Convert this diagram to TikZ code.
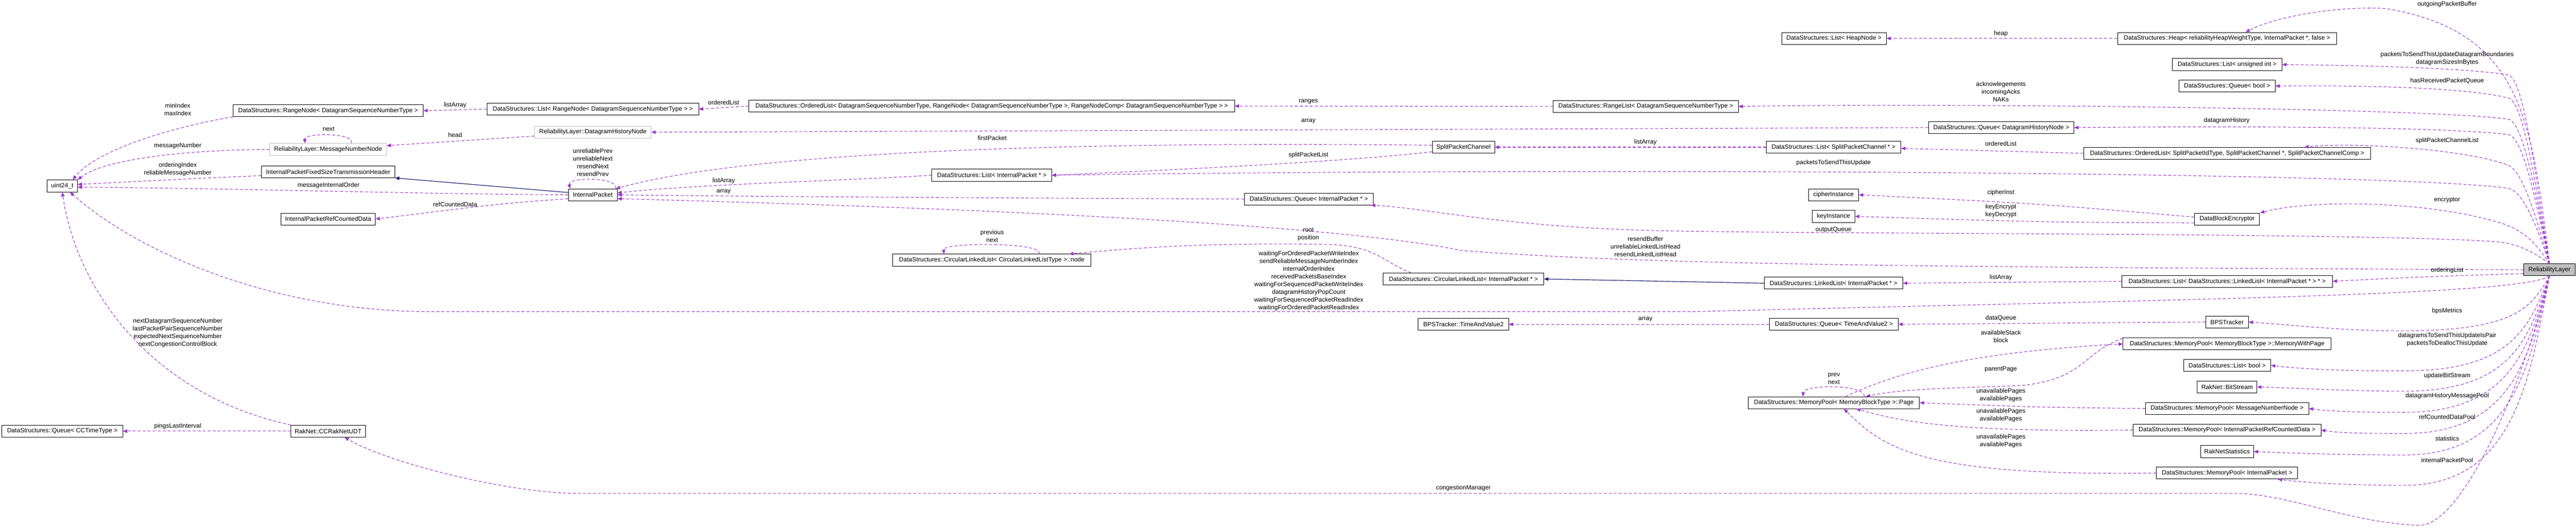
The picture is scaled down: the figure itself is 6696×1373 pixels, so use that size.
\documentclass[tikz,border=0pt]{standalone}
\usepackage{fontspec}
\setmainfont{Liberation Sans}
\usetikzlibrary{arrows.meta}
\newcommand\dfont{\fontsize{4.6pt}{5.7pt}\selectfont}
\definecolor{dep}{HTML}{9A32CD}
\definecolor{inh}{HTML}{191970}
\tikzset{
  box/.style={draw=black,line width=0.35pt,inner sep=0pt,minimum height=0.31cm,font=\dfont,fill=white},
  gbox/.style={box,draw=gray!50},
  rbox/.style={box,fill=gray!50},
  lbl/.style={font=\dfont,align=center,inner sep=0pt},
  dep/.style={draw=dep,line width=0.4pt,dash pattern=on 0.08cm off 0.05cm,-{Triangle[length=0.11cm,width=0.09cm]}},
  inhe/.style={draw=inh,line width=0.45pt,-{Triangle[length=0.11cm,width=0.09cm]}}
}
\newcommand\bx[6][box]{\node[#1,minimum width=#5*0.01cm] (#2) at (#3,#4) {#6};}
\begin{document}
\begin{tikzpicture}[x=0.01cm,y=-0.01cm]
\useasboundingbox (0,0) rectangle (6696,1373);
% nodes
\bx{uint}{162}{484}{79}{uint24\_t}
\bx{ccq}{162}{1122}{314}{DataStructures::Queue< CCTimeType >}
\bx{ccr}{853}{1122}{193}{RakNet::CCRakNetUDT}
\bx{rn}{853}{288}{494}{DataStructures::RangeNode< DatagramSequenceNumberType >}
\bx[gbox]{mnn}{853}{389}{303}{ReliabilityLayer::MessageNumberNode}
\bx{hdr}{853}{447}{347}{InternalPacketFixedSizeTransmissionHeader}
\bx{rcd}{853}{570}{246}{InternalPacketRefCountedData}
\bx{lrn}{1541}{284}{550}{DataStructures::List< RangeNode< DatagramSequenceNumberType > >}
\bx[gbox]{dhn}{1541}{344}{303}{ReliabilityLayer::DatagramHistoryNode}
\bx{ip}{1541}{507}{127}{InternalPacket}
\bx{ol}{2578}{276}{1262}{DataStructures::OrderedList< DatagramSequenceNumberType, RangeNode< DatagramSequenceNumberType >, RangeNodeComp< DatagramSequenceNumberType > >}
\bx{lip}{2578}{456}{311}{DataStructures::List< InternalPacket * >}
\bx{cln}{2578}{677}{515}{DataStructures::CircularLinkedList< CircularLinkedListType >::node}
\bx{qip}{3402}{518}{335}{DataStructures::Queue< InternalPacket * >}
\bx{rl}{4278}{277}{481}{DataStructures::RangeList< DatagramSequenceNumberType >}
\bx{spc}{3804}{383}{162}{SplitPacketChannel}
\bx{cll}{3804}{726}{418}{DataStructures::CircularLinkedList< InternalPacket * >}
\bx{tav}{3804}{844}{235}{BPSTracker::TimeAndValue2}
\bx{lhn}{4767}{100}{272}{DataStructures::List< HeapNode >}
\bx{qdh}{5202}{332}{378}{DataStructures::Queue< DatagramHistoryNode >}
\bx{lsp}{4766}{383}{350}{DataStructures::List< SplitPacketChannel * >}
\bx{osp}{5789}{399}{746}{DataStructures::OrderedList< SplitPacketIdType, SplitPacketChannel *, SplitPacketChannelComp >}
\bx{ci}{4766}{507}{131}{cipherInstance}
\bx{ki}{4766}{563}{111}{keyInstance}
\bx{ll}{4766}{737}{360}{DataStructures::LinkedList< InternalPacket * >}
\bx{qtv}{4767}{844}{334}{DataStructures::Queue< TimeAndValue2 >}
\bx{pg}{4767}{1048}{445}{DataStructures::MemoryPool< MemoryBlockType >::Page}
\bx{hp}{5789}{100}{570}{DataStructures::Heap< reliabilityHeapWeightType, InternalPacket *, false >}
\bx{lui}{5789}{168}{285}{DataStructures::List< unsigned int >}
\bx{qb}{5789}{224}{250}{DataStructures::Queue< bool >}
\bx{dbe}{5789}{570}{169}{DataBlockEncryptor}
\bx[rbox]{rlay}{6627}{702}{134}{ReliabilityLayer}
\bx{lll}{5789}{732}{548}{DataStructures::List< DataStructures::LinkedList< InternalPacket * > * >}
\bx{bps}{5789}{838}{111}{BPSTracker}
\bx{mwp}{5789}{895}{541}{DataStructures::MemoryPool< MemoryBlockType >::MemoryWithPage}
\bx{lb}{5789}{951}{227}{DataStructures::List< bool >}
\bx{bs}{5789}{1007}{155}{RakNet::BitStream}
\bx{mpm}{5789}{1063}{424}{DataStructures::MemoryPool< MessageNumberNode >}
\bx{mpr}{5789}{1119}{488}{DataStructures::MemoryPool< InternalPacketRefCountedData >}
\bx{rs}{5789}{1175}{138}{RakNetStatistics}
\bx{mpi}{5789}{1231}{367}{DataStructures::MemoryPool< InternalPacket >}
% edges to uint24_t
\draw[dep] (rn.south west) .. controls (450,330) and (250,390) .. ([xshift=0.27cm]uint.north);
\draw[dep] (mnn.west) .. controls (450,390) and (260,420) .. (uint.north east);
\draw[dep] ([yshift=-0.1cm]hdr.west) .. controls (500,465) .. ([yshift=0.04cm]uint.east);
\draw[dep] (ip.west) .. controls (1100,505) and (600,490) .. ([yshift=-0.03cm]uint.east);
\draw[dep] (ccr.north west) .. controls (400,1030) and (200,760) .. (uint.south);
\draw[dep] (rlay.south) .. controls (6560,770) and (5600,780) .. (4400,811) -- (1120,811) .. controls (700,811) and (350,650) .. ([xshift=0.2cm]uint.south);
\draw[dep] (ccr.west) -- (ccq.east);
\draw[dep] (rlay.south) .. controls (6560,1000) and (6400,1370) .. (6288,1367) .. controls (6100,1360) and (5950,1284) .. (5806,1284) -- (1493,1284) .. controls (1300,1280) and (1000,1200) .. ([xshift=0.43cm]ccr.south);
% left cluster
\draw[dep] ([yshift=-0.1cm]dhn.west) -- ([yshift=0.1cm]mnn.east);
\draw[dep] ([xshift=0.6cm]mnn.north) .. controls (925,345) and (790,345) .. ([xshift=-0.6cm]mnn.north);
\draw[inhe] ([yshift=0.06cm]ip.west) -- (hdr.south east);
\draw[dep] ([yshift=-0.1cm]ip.west) .. controls (1300,530) .. (rcd.east);
\draw[dep] ([xshift=-0.05cm]ip.north east) .. controls (1610,460) and (1475,460) .. ([xshift=0.05cm]ip.north west);
\draw[dep] (lrn.west) -- (rn.east);
\draw[dep] (ol.west) -- (lrn.east);
\draw[dep] (rl.west) -- (ol.east);
\draw[dep] (lip.west) .. controls (2200,470) and (1800,480) .. ([yshift=0.05cm]ip.east);
\draw[dep] (qip.west) .. controls (2500,515) and (1800,510) .. (ip.east);
\draw[dep] ([yshift=0.05cm]spc.west) .. controls (3000,370) and (2000,380) .. ([xshift=-0.04cm]ip.north east);
\draw[dep] ([yshift=-0.12cm]spc.west) .. controls (3500,420) and (3100,440) .. (lip.east);
\draw[dep] (lsp.west) -- (spc.east);
\draw[dep] (osp.west) -- ([yshift=-0.03cm]lsp.east);
\draw[dep] (hp.west) -- (lhn.east);
\draw[dep] (qdh.west) -- (dhn.east);
\draw[dep] ([yshift=0.05cm]dbe.west) .. controls (5300,530) .. (ci.east);
\draw[dep] ([yshift=-0.1cm]dbe.west) .. controls (5300,578) .. (ki.east);
\draw[inhe] (ll.west) -- (cll.east);
\draw[dep] ([xshift=-1.36cm]cll.north) .. controls (3590,680) and (3580,640) .. (3450,636) .. controls (3100,630) and (2900,650) .. ([xshift=2.01cm]cln.north);
\draw[dep] ([xshift=1.22cm]cln.north) .. controls (2720,630) and (2450,630) .. ([xshift=-1.24cm]cln.north);
\draw[dep] (lll.west) -- (ll.east);
\draw[dep] (bps.west) -- (qtv.east);
\draw[dep] (qtv.west) -- (tav.east);
% memory pool
\draw[dep] ([xshift=0.3cm]pg.north) .. controls (4950,960) and (5150,915) .. (mwp.west);
\draw[dep] ([yshift=0.15cm]mwp.west) .. controls (5410,920) and (5420,985) .. (5257,1003) .. controls (5100,1010) and (4950,1010) .. ([xshift=0.83cm]pg.north);
\draw[dep] ([xshift=0.79cm]pg.north) .. controls (4850,1000) and (4690,1000) .. ([xshift=-0.81cm]pg.north);
\draw[dep] (mpm.west) .. controls (5300,1060) .. (pg.east);
\draw[dep] (mpr.west) .. controls (5100,1125) and (4950,1100) .. ([xshift=0.58cm]pg.south);
\draw[dep] (mpi.west) .. controls (5000,1240) and (4900,1170) .. ([xshift=0.26cm]pg.south);
% from ReliabilityLayer, upward
\draw[dep] (rlay.north) .. controls (6580,300) and (6550,80) .. (6200,22) .. controls (6050,15) and (5900,50) .. ([xshift=0.48cm]hp.north);
\draw[dep] (rlay.north) .. controls (6590,450) and (6560,205) .. (6520,195) .. controls (6400,175) and (6100,170) .. (lui.east);
\draw[dep] (rlay.north) .. controls (6590,480) and (6560,265) .. (6520,255) .. controls (6400,225) and (6100,222) .. (qb.east);
\draw[dep] (rlay.north) .. controls (6590,500) and (6560,320) .. (6520,310) .. controls (6300,280) and (5000,268) .. (rl.east);
\draw[dep] (rlay.north) .. controls (6590,520) and (6560,360) .. (6520,350) .. controls (6300,325) and (5600,330) .. (qdh.east);
\draw[dep] (rlay.north) .. controls (6590,560) and (6560,450) .. (6520,430) .. controls (6400,385) and (6100,370) .. ([xshift=2.01cm]osp.north);
\draw[dep] (rlay.north) .. controls (6590,580) and (6560,500) .. (6520,490) .. controls (6200,445) and (4000,437) .. (lip.east);
\draw[dep] (rlay.north) .. controls (6590,630) and (6560,600) .. (6500,580) .. controls (6300,520) and (6000,520) .. ([xshift=0.86cm]dbe.north);
\draw[dep] (rlay.north) .. controls (6590,660) and (6560,640) .. (6500,630) .. controls (6200,605) and (4700,610) .. (4300,600) .. controls (3900,590) and (3700,540) .. ([xshift=1.62cm]qip.south);
\draw[dep] (rlay.west) .. controls (5000,695) and (4300,690) .. (3800,652) .. controls (3400,570) and (2200,533) .. ([yshift=-0.1cm]ip.east);
\draw[dep] ([yshift=-0.1cm]rlay.west) .. controls (6300,720) .. (lll.east);
% downward
\draw[dep] (rlay.south) .. controls (6580,800) and (6540,860) .. (6250,861) .. controls (6100,862) and (5950,845) .. (bps.east);
\draw[dep] (rlay.south) .. controls (6575,850) and (6530,965) .. (6250,965) .. controls (6100,966) and (5980,960) .. (lb.east);
\draw[dep] (rlay.south) .. controls (6575,880) and (6530,1018) .. (6250,1018) .. controls (6100,1018) and (5980,1010) .. (bs.east);
\draw[dep] (rlay.south) .. controls (6575,900) and (6530,1073) .. (6250,1073) .. controls (6120,1073) and (6050,1070) .. (mpm.east);
\draw[dep] (rlay.south) .. controls (6575,930) and (6530,1128) .. (6250,1128) .. controls (6150,1128) and (6080,1127) .. (mpr.east);
\draw[dep] (rlay.south) .. controls (6575,960) and (6530,1184) .. (6250,1184) .. controls (6100,1184) and (5950,1179) .. (rs.east);
\draw[dep] (rlay.south) .. controls (6575,1000) and (6530,1263) .. (6250,1263) .. controls (6100,1263) and (5980,1255) .. ([xshift=1.32cm]mpi.south);
% labels
\node[lbl] at (462,285) {minIndex\\maxIndex};
\node[lbl] at (462,379) {messageNumber};
\node[lbl] at (462,440) {orderingIndex\\reliableMessageNumber};
\node[lbl] at (854,482) {messageInternalOrder};
\node[lbl] at (854,336) {next};
\node[lbl] at (462,1109) {pingsLastInterval};
\node[lbl] at (462,866) {nextDatagramSequenceNumber\\lastPacketPairSequenceNumber\\expectedNextSequenceNumber\\nextCongestionControlBlock};
\node[lbl] at (1183,274) {listArray};
\node[lbl] at (1881,267) {orderedList};
\node[lbl] at (1183,351) {head};
\node[lbl] at (1541,423) {unreliablePrev\\unreliableNext\\resendNext\\resendPrev};
\node[lbl] at (1183,532) {refCountedData};
\node[lbl] at (1881,470) {listArray};
\node[lbl] at (1881,499) {array};
\node[lbl] at (2579,359) {firstPacket};
\node[lbl] at (2579,614) {previous\\next};
\node[lbl] at (3401,264) {ranges};
\node[lbl] at (3401,316) {array};
\node[lbl] at (4277,370) {listArray};
\node[lbl] at (3401,403) {splitPacketList};
\node[lbl] at (3401,610) {root\\position};
\node[lbl] at (4277,642) {resendBuffer\\unreliableLinkedListHead\\resendLinkedListHead};
\node[lbl] at (3402,731) {waitingForOrderedPacketWriteIndex\\sendReliableMessageNumberIndex\\internalOrderIndex\\receivedPacketsBaseIndex\\waitingForSequencedPacketWriteIndex\\datagramHistoryPopCount\\waitingForSequencedPacketReadIndex\\waitingForOrderedPacketReadIndex};
\node[lbl] at (4277,831) {array};
\node[lbl] at (3804,1270) {congestionManager};
\node[lbl] at (5201,87) {heap};
\node[lbl] at (5201,238) {acknowlegements\\incomingAcks\\NAKs};
\node[lbl] at (5201,374) {orderedList};
\node[lbl] at (4766,424) {packetsToSendThisUpdate};
\node[lbl] at (5201,502) {cipherInst};
\node[lbl] at (5201,549) {keyEncrypt\\keyDecrypt};
\node[lbl] at (4766,598) {outputQueue};
\node[lbl] at (5201,722) {listArray};
\node[lbl] at (5201,828) {dataQueue};
\node[lbl] at (5201,876) {availableStack\\block};
\node[lbl] at (5201,961) {parentPage};
\node[lbl] at (4767,985) {prev\\next};
\node[lbl] at (5201,1028) {unavailablePages\\availablePages};
\node[lbl] at (5201,1080) {unavailablePages\\availablePages};
\node[lbl] at (5201,1148) {unavailablePages\\availablePages};
\node[lbl] at (6361,11) {outgoingPacketBuffer};
\node[lbl] at (6361,152) {packetsToSendThisUpdateDatagramBoundaries\\datagramSizesInBytes};
\node[lbl] at (6361,210) {hasReceivedPacketQueue};
\node[lbl] at (5788,314) {datagramHistory};
\node[lbl] at (6361,366) {splitPacketChannelList};
\node[lbl] at (6361,521) {encryptor};
\node[lbl] at (6361,703) {orderingList};
\node[lbl] at (6361,810) {bpsMetrics};
\node[lbl] at (6361,884) {datagramsToSendThisUpdateIsPair\\packetsToDeallocThisUpdate};
\node[lbl] at (6361,978) {updateBitStream};
\node[lbl] at (6361,1030) {datagramHistoryMessagePool};
\node[lbl] at (6361,1085) {refCountedDataPool};
\node[lbl] at (6361,1141) {statistics};
\node[lbl] at (6361,1197) {internalPacketPool};
\end{tikzpicture}
\end{document}
